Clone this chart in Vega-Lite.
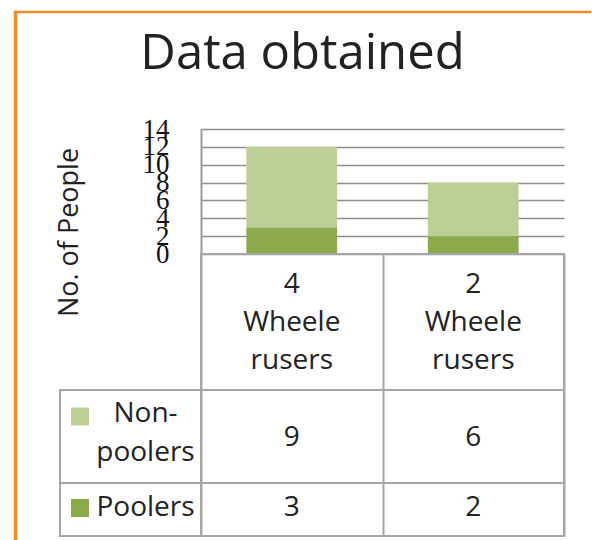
{
  "$schema": "https://vega.github.io/schema/vega-lite/v6.json",
  "padding": {"left": 13, "top": 10, "right": 0, "bottom": 0},
  "background": "white",
  "title": {"text": "Data obtained", "fontSize": 49, "fontWeight": "normal", "font": "Open Sans", "color": "#222222", "anchor": "middle", "baseline": "alphabetic", "offset": -107},
  "datasets": {
    "counts": [
      {"vehicle": "4 Wheele rusers", "group": "Poolers", "people": 3},
      {"vehicle": "4 Wheele rusers", "group": "Non-poolers", "people": 9},
      {"vehicle": "2 Wheele rusers", "group": "Poolers", "people": 2},
      {"vehicle": "2 Wheele rusers", "group": "Non-poolers", "people": 6}
    ],
    "vehicles": [
      {"vehicle": "4 Wheele rusers", "label": ["4", "Wheele", "rusers"]},
      {"vehicle": "2 Wheele rusers", "label": ["2", "Wheele", "rusers"]}
    ],
    "series": [
      {"group": "Non-poolers", "label": ["Non-", "poolers"]},
      {"group": "Poolers", "label": ["Poolers"]}
    ]
  },
  "config": {"view": {"stroke": null}, "font": "Open Sans"},
  "spacing": 0,
  "bounds": "flush",
  "hconcat": [
    {"width": 0.01, "height": 545, "data": {"values": []}, "mark": "point", "view": {"stroke": "#f28c28", "strokeWidth": 2.5}},
    {
      "spacing": 116,
      "bounds": "flush",
      "vconcat": [
        {"width": 574, "height": 0.01, "data": {"values": []}, "mark": "point", "view": {"stroke": "#f28c28", "strokeWidth": 2.5}},
        {
          "columns": 3,
          "align": "each",
          "bounds": "flush",
          "spacing": 0,
          "concat": [
            {"width": 44, "height": 125, "data": {"values": []}, "mark": "point"},
            {"width": 141, "height": 125, "data": {"values": []}, "mark": "point"},
            {
              "width": 363, "height": 125,
              "data": {"name": "counts"},
              "mark": {"type": "bar"},
              "encoding": {
                "x": {"field": "vehicle", "type": "nominal", "sort": ["4 Wheele rusers", "2 Wheele rusers"], "scale": {"paddingInner": 0.5, "paddingOuter": 0.25}, "axis": null},
                "y": {"field": "people", "type": "quantitative", "stack": "zero", "scale": {"domain": [0, 14], "nice": false},
                  "axis": {"values": [0, 2, 4, 6, 8, 10, 12, 14], "grid": true, "gridColor": "#8f8f8f", "gridWidth": 1.5, "domain": true, "domainColor": "#9a9a9a", "domainWidth": 2, "ticks": false, "labelOverlap": false, "labelFont": "Liberation Serif", "labelFontSize": 27, "labelColor": "#111111", "labelPadding": 32, "title": "No. of People", "titleFont": "Open Sans", "titleFontSize": 27, "titleFontWeight": "normal", "titleColor": "#222222", "titleX": -132, "titleY": 103, "titleAngle": -90, "titleAlign": "center", "titleBaseline": "middle"}},
                "color": {"field": "group", "type": "nominal", "scale": {"domain": ["Non-poolers", "Poolers"], "range": ["#bccf96", "#8aaa4b"]}, "legend": null},
                "order": {"field": "group", "sort": "descending"}
              }
            },
            {"width": 44, "height": 136, "data": {"values": []}, "mark": "point"},
            {"width": 141, "height": 136, "data": {"values": []}, "mark": "point"},
            {
              "width": 363, "height": 136,
              "data": {"name": "vehicles"},
              "view": {"stroke": "#a6a6a6", "strokeWidth": 2},
              "mark": {"type": "text", "fontSize": 28, "lineHeight": 38, "color": "#222222", "baseline": "middle", "dy": -37},
              "encoding": {
                "x": {"field": "vehicle", "type": "nominal", "sort": ["4 Wheele rusers", "2 Wheele rusers"], "scale": {"paddingInner": 0, "paddingOuter": 0}, "axis": {"grid": true, "tickBand": "extent", "gridColor": "#a6a6a6", "gridWidth": 2, "labels": false, "ticks": false, "domain": false, "title": null}},
                "text": {"field": "label", "type": "nominal"}
              }
            },
            {"width": 44, "height": 93, "data": {"values": []}, "mark": "point"},
            {
              "width": 141, "height": 93,
              "data": {"name": "series"},
              "transform": [{"filter": "datum.group === 'Non-poolers'"}],
              "view": {"stroke": "#a6a6a6", "strokeWidth": 2},
              "layer": [
                {"mark": {"type": "point", "shape": "square", "filled": true, "size": 324, "opacity": 1, "xOffset": -50.5, "yOffset": -20},
                 "encoding": {"color": {"field": "group", "type": "nominal", "scale": {"domain": ["Non-poolers", "Poolers"], "range": ["#bccf96", "#8aaa4b"]}, "legend": null}}},
                {"mark": {"type": "text", "fontSize": 28, "lineHeight": 39, "color": "#222222", "dx": 15, "dy": -22.5, "baseline": "middle"},
                 "encoding": {"text": {"field": "label", "type": "nominal"}}}
              ]
            },
            {
              "width": 363, "height": 93,
              "data": {"name": "counts"},
              "transform": [{"filter": "datum.group === 'Non-poolers'"}],
              "view": {"stroke": "#a6a6a6", "strokeWidth": 2},
              "mark": {"type": "text", "fontSize": 28, "color": "#222222", "baseline": "middle", "dy": 1},
              "encoding": {
                "x": {"field": "vehicle", "type": "nominal", "sort": ["4 Wheele rusers", "2 Wheele rusers"], "scale": {"paddingInner": 0, "paddingOuter": 0}, "axis": {"grid": true, "tickBand": "extent", "gridColor": "#a6a6a6", "gridWidth": 2, "labels": false, "ticks": false, "domain": false, "title": null}},
                "text": {"field": "people", "type": "quantitative"}
              }
            },
            {"width": 44, "height": 53, "data": {"values": []}, "mark": "point"},
            {
              "width": 141, "height": 53,
              "data": {"name": "series"},
              "transform": [{"filter": "datum.group === 'Poolers'"}],
              "view": {"stroke": "#a6a6a6", "strokeWidth": 2},
              "layer": [
                {"mark": {"type": "point", "shape": "square", "filled": true, "size": 324, "opacity": 1, "xOffset": -50.5, "yOffset": -1.5},
                 "encoding": {"color": {"field": "group", "type": "nominal", "scale": {"domain": ["Non-poolers", "Poolers"], "range": ["#bccf96", "#8aaa4b"]}, "legend": null}}},
                {"mark": {"type": "text", "fontSize": 28, "lineHeight": 39, "color": "#222222", "dx": 15, "dy": -2, "baseline": "middle"},
                 "encoding": {"text": {"field": "label", "type": "nominal"}}}
              ]
            },
            {
              "width": 363, "height": 53,
              "data": {"name": "counts"},
              "transform": [{"filter": "datum.group === 'Poolers'"}],
              "view": {"stroke": "#a6a6a6", "strokeWidth": 2},
              "mark": {"type": "text", "fontSize": 28, "color": "#222222", "baseline": "middle", "dy": -2},
              "encoding": {
                "x": {"field": "vehicle", "type": "nominal", "sort": ["4 Wheele rusers", "2 Wheele rusers"], "scale": {"paddingInner": 0, "paddingOuter": 0}, "axis": {"grid": true, "tickBand": "extent", "gridColor": "#a6a6a6", "gridWidth": 2, "labels": false, "ticks": false, "domain": false, "title": null}},
                "text": {"field": "people", "type": "quantitative"}
              }
            }
          ]
        }
      ]
    },
    {"width": 0.01, "height": 545, "data": {"values": []}, "mark": "point", "view": {"stroke": "#f28c28", "strokeWidth": 2.5}}
  ]
}
